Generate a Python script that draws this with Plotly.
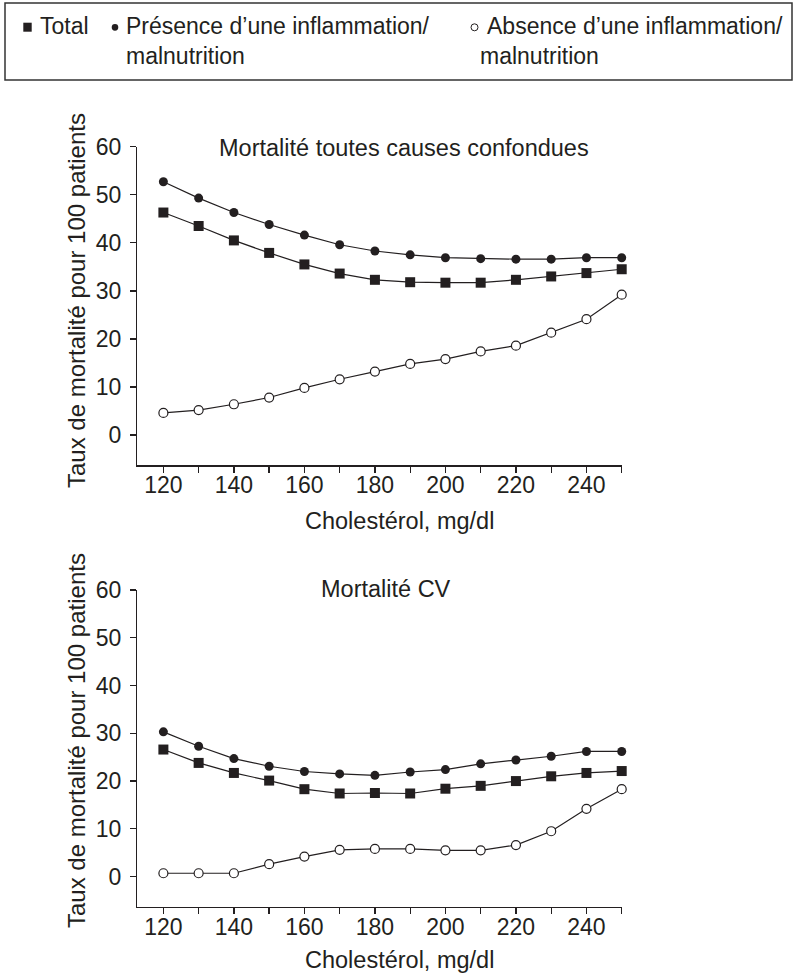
import plotly.graph_objects as go

W, H = 794, 976

cholesterol = [120, 130, 140, 150, 160, 170, 180, 190, 200, 210, 220, 230, 240, 250]

# Mortalité toutes causes confondues
all_total = [46.3, 43.5, 40.5, 37.9, 35.5, 33.6, 32.3, 31.8, 31.7, 31.7, 32.3, 33.0, 33.7, 34.5]
all_presence = [52.7, 49.3, 46.3, 43.8, 41.6, 39.6, 38.3, 37.5, 36.9, 36.7, 36.6, 36.6, 36.9, 36.9]
all_absence = [4.6, 5.2, 6.4, 7.8, 9.8, 11.6, 13.2, 14.8, 15.8, 17.4, 18.6, 21.3, 24.1, 29.2]

# Mortalité CV
cv_total = [26.6, 23.8, 21.7, 20.1, 18.3, 17.4, 17.5, 17.4, 18.4, 19.0, 20.0, 21.0, 21.7, 22.1]
cv_presence = [30.3, 27.3, 24.7, 23.1, 22.0, 21.5, 21.2, 21.9, 22.4, 23.6, 24.4, 25.2, 26.2, 26.2]
cv_absence = [0.7, 0.7, 0.7, 2.6, 4.2, 5.6, 5.8, 5.8, 5.5, 5.5, 6.6, 9.5, 14.2, 18.3]

x_tickvals = list(range(120, 251, 10))
x_ticktext = [str(v) if v % 20 == 0 else "" for v in x_tickvals]
y_tickvals = [0, 10, 20, 30, 40, 50, 60]

legend_labels = ["Total", "Présence d’une inflammation/", "Absence d’une inflammation/", "malnutrition"]
panel_titles = ["Mortalité toutes causes confondues", "Mortalité CV"]
x_title = "Cholestérol, mg/dl"
y_title = "Taux de mortalité pour 100 patients"

INK = "#231f20"
FONT = "Liberation Sans, Arial, Helvetica, sans-serif"
FS = 23.5
FS_YT = 24
FS_LEG = 23
FS_TICK = 23


def px(x):
    return x / W


def py(y):
    return 1 - y / H


fig = go.Figure()

series_style = [
    dict(symbol="square", size=10, color=INK, line=dict(width=0)),
    dict(symbol="circle", size=9, color=INK, line=dict(width=0)),
    dict(symbol="circle", size=9, color="white", line=dict(width=1.2, color=INK)),
]

for (xa, ya), data in [(("x", "y"), (all_total, all_presence, all_absence)),
                       (("x2", "y2"), (cv_total, cv_presence, cv_absence))]:
    for vals, mk in zip(data, series_style):
        fig.add_trace(go.Scatter(
            x=cholesterol, y=vals, mode="lines+markers",
            line=dict(color=INK, width=1.2), marker=mk,
            xaxis=xa, yaxis=ya, cliponaxis=False, showlegend=False, hoverinfo="skip",
        ))

x_dom = [px(137.3), px(621.7)]
axis_common = dict(showgrid=False, zeroline=False, showline=True, linecolor=INK, linewidth=1.4,
                   ticks="outside", ticklen=6, tickwidth=1.3, tickcolor=INK, automargin=False,
                   tickfont=dict(family=FONT, size=FS_TICK, color=INK))

fig.update_layout(
    width=W, height=H, margin=dict(l=0, r=0, t=0, b=0, pad=0, autoexpand=False),
    paper_bgcolor="white", plot_bgcolor="white", showlegend=False,
    xaxis=dict(domain=x_dom, range=[112.6, 250], anchor="y", tickvals=x_tickvals, ticktext=x_ticktext,
               ticklabelstandoff=-7, **axis_common),
    yaxis=dict(domain=[py(465.3), py(146.7)], range=[-6.3, 60], anchor="x", tickvals=y_tickvals,
               ticklabelstandoff=4, **axis_common),
    xaxis2=dict(domain=x_dom, range=[112.6, 250], anchor="y2", tickvals=x_tickvals, ticktext=x_ticktext,
                ticklabelstandoff=-7, **axis_common),
    yaxis2=dict(domain=[py(906.7), py(590)], range=[-6.3, 60], anchor="x2", tickvals=y_tickvals,
                ticklabelstandoff=4, **axis_common),
)

ann = []


def text(t, x, y, xanchor="center", angle=0, size=FS):
    ann.append(dict(text=t, x=px(x), y=py(y), xref="paper", yref="paper", xanchor=xanchor,
                    yanchor="middle", showarrow=False, textangle=angle,
                    font=dict(family=FONT, size=size, color=INK)))


# panel titles
text(panel_titles[0], 404, 148)
text(panel_titles[1], 386, 589)
# axis titles
text(x_title, 399, 521)
text(x_title, 399, 960)
text(y_title, 76, 301, angle=-90, size=FS_YT)
text(y_title, 76, 741, angle=-90, size=FS_YT)
# legend texts
text(legend_labels[0], 38, 26, xanchor="left", size=FS_LEG)
text(legend_labels[1], 124, 26, xanchor="left", size=FS_LEG)
text(legend_labels[3], 124, 56, xanchor="left", size=FS_LEG)
text(legend_labels[2], 485, 26, xanchor="left", size=FS_LEG)
text(legend_labels[3], 478, 56, xanchor="left", size=FS_LEG)

fig.update_layout(annotations=ann)

shapes = [
    dict(type="rect", xref="paper", yref="paper", x0=px(5), x1=px(792), y0=py(80), y1=py(3),
         line=dict(color="#333333", width=1.5), fillcolor="rgba(0,0,0,0)"),
    dict(type="rect", xref="paper", yref="paper", x0=px(23.3), x1=px(31.7), y0=py(31.7), y1=py(22.7),
         line=dict(width=0), fillcolor=INK),
    dict(type="circle", xref="paper", yref="paper", x0=px(111.7), x1=px(118.3), y0=py(30.7), y1=py(24),
         line=dict(width=0), fillcolor=INK),
    dict(type="circle", xref="paper", yref="paper", x0=px(471), x1=px(478), y0=py(30.8), y1=py(23.8),
         line=dict(width=1, color=INK), fillcolor="white"),
]
fig.update_layout(shapes=shapes)

fig.write_html("out.html", config={"displayModeBar": False, "staticPlot": True},
               post_script="document.body.style.margin='0';document.body.style.overflow='hidden';")
